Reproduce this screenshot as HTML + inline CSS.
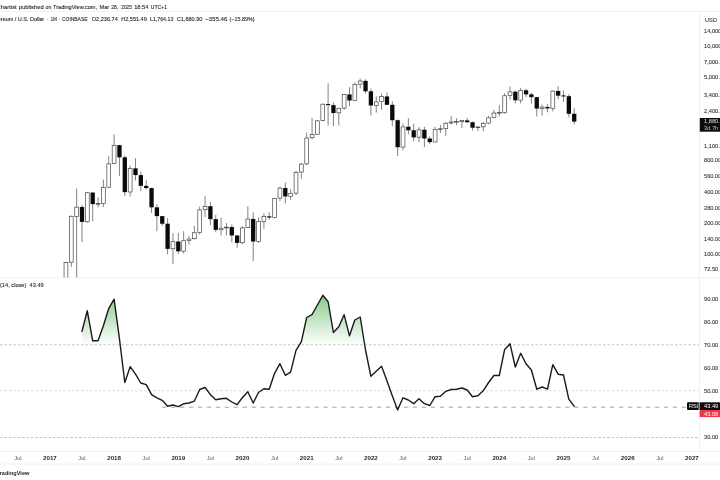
<!DOCTYPE html>
<html><head><meta charset="utf-8"><title>ETHUSD chart</title>
<style>
html,body{margin:0;padding:0;background:#fff;}
body{width:720px;height:480px;overflow:hidden;position:relative;font-family:"Liberation Sans",Arial,sans-serif;}
svg{position:absolute;left:0;top:0;display:block;filter:blur(0.3px)}
text{font-family:"Liberation Sans",Arial,sans-serif;}
</style></head><body>
<svg width="720" height="480" viewBox="0 0 720 480">
<defs>
<linearGradient id="g" gradientUnits="userSpaceOnUse" x1="0" y1="276.0" x2="0" y2="345.0">
<stop offset="0" stop-color="#4caf50" stop-opacity="0.92"/>
<stop offset="1" stop-color="#4caf50" stop-opacity="0"/>
</linearGradient>
<clipPath id="c70"><rect x="0" y="270" width="700" height="75.0"/></clipPath>
<clipPath id="cp"><rect x="0" y="12" width="699" height="265.5"/></clipPath>
</defs>
<rect width="720" height="480" fill="#fff"/>

<g stroke="#f2f2f2" stroke-width="1" fill="none">
<line x1="0" y1="11.5" x2="720" y2="11.5"/>
<line x1="0" y1="277.5" x2="720" y2="277.5"/>
<line x1="0" y1="451.5" x2="720" y2="451.5"/>
<line x1="0" y1="464" x2="720" y2="464"/>
<line x1="699.5" y1="11.5" x2="699.5" y2="451.5"/>
</g>
<g fill="none" stroke-width="1">
<line x1="0" y1="344.8" x2="699" y2="344.8" stroke="#c6c6c6" stroke-dasharray="2.6 1.9"/>
<line x1="0" y1="390.8" x2="699" y2="390.8" stroke="#dadada" stroke-dasharray="2.6 1.9"/>
<line x1="0" y1="437.5" x2="699" y2="437.5" stroke="#c6c6c6" stroke-dasharray="2.6 1.8"/>
</g>
<line x1="162.1" y1="407.2" x2="687" y2="407.2" stroke="#c4909c" stroke-width="1" stroke-dasharray="4.2 4.76"/>
<g clip-path="url(#c70)"><polygon points="82.0,345.0 82.0,331.3 87.3,310.8 92.7,340.8 98.0,340.8 103.4,325.8 108.8,308.3 114.1,299.2 119.4,338.3 124.8,382.5 130.2,366.7 135.5,374.2 140.8,383.0 146.2,384.7 151.6,394.7 156.9,397.8 162.2,400.3 167.6,406.3 172.9,405.0 178.3,406.7 183.6,403.8 189.0,403.0 194.3,401.2 199.7,389.5 205.1,387.5 210.4,394.7 215.8,399.7 221.1,398.7 226.4,398.3 231.8,402.0 237.1,404.7 242.5,397.5 247.8,391.7 253.2,403.0 258.5,392.5 263.9,388.7 269.2,389.3 274.6,373.3 279.9,363.7 285.3,375.3 290.6,372.2 296.0,350.4 301.4,341.7 306.7,317.5 312.0,314.7 317.4,305.0 322.8,295.3 328.1,301.7 333.4,332.5 338.8,326.7 344.1,314.7 349.5,335.8 354.8,320.0 360.2,317.0 365.5,350.0 370.9,376.3 376.2,371.3 381.6,366.2 386.9,380.8 392.3,395.8 397.6,410.0 403.0,397.8 408.3,400.0 413.7,403.7 419.0,398.7 424.4,403.7 429.8,405.5 435.1,396.7 440.4,396.2 445.8,391.3 451.1,389.5 456.5,389.3 461.8,388.0 467.2,390.0 472.5,396.7 477.9,395.8 483.2,390.8 488.6,382.5 493.9,375.5 499.3,375.5 504.6,349.7 510.0,343.7 515.3,367.0 520.7,353.3 526.0,363.7 531.4,370.0 536.8,389.2 542.1,387.0 547.5,389.2 552.8,364.7 558.1,374.2 563.5,375.0 568.8,399.2 574.2,406.3 574.2,345.0" fill="url(#g)"/></g>
<polyline points="82.0,331.3 87.3,310.8 92.7,340.8 98.0,340.8 103.4,325.8 108.8,308.3 114.1,299.2 119.4,338.3 124.8,382.5 130.2,366.7 135.5,374.2 140.8,383.0 146.2,384.7 151.6,394.7 156.9,397.8 162.2,400.3 167.6,406.3 172.9,405.0 178.3,406.7 183.6,403.8 189.0,403.0 194.3,401.2 199.7,389.5 205.1,387.5 210.4,394.7 215.8,399.7 221.1,398.7 226.4,398.3 231.8,402.0 237.1,404.7 242.5,397.5 247.8,391.7 253.2,403.0 258.5,392.5 263.9,388.7 269.2,389.3 274.6,373.3 279.9,363.7 285.3,375.3 290.6,372.2 296.0,350.4 301.4,341.7 306.7,317.5 312.0,314.7 317.4,305.0 322.8,295.3 328.1,301.7 333.4,332.5 338.8,326.7 344.1,314.7 349.5,335.8 354.8,320.0 360.2,317.0 365.5,350.0 370.9,376.3 376.2,371.3 381.6,366.2 386.9,380.8 392.3,395.8 397.6,410.0 403.0,397.8 408.3,400.0 413.7,403.7 419.0,398.7 424.4,403.7 429.8,405.5 435.1,396.7 440.4,396.2 445.8,391.3 451.1,389.5 456.5,389.3 461.8,388.0 467.2,390.0 472.5,396.7 477.9,395.8 483.2,390.8 488.6,382.5 493.9,375.5 499.3,375.5 504.6,349.7 510.0,343.7 515.3,367.0 520.7,353.3 526.0,363.7 531.4,370.0 536.8,389.2 542.1,387.0 547.5,389.2 552.8,364.7 558.1,374.2 563.5,375.0 568.8,399.2 574.2,406.3" fill="none" stroke="#1a1a1a" stroke-width="1.4" stroke-linejoin="round" stroke-linecap="round"/>
<g clip-path="url(#cp)">
<line x1="60.60" y1="281.46" x2="60.60" y2="338.77" stroke="#5a5a5a" stroke-width="0.75"/>
<rect x="58.70" y="285.92" width="3.80" height="51.83" fill="#fff" stroke="#4c4c4c" stroke-width="0.72"/>
<line x1="65.95" y1="261.76" x2="65.95" y2="295.87" stroke="#5a5a5a" stroke-width="0.75"/>
<rect x="64.05" y="262.44" width="3.80" height="23.18" fill="#fff" stroke="#4c4c4c" stroke-width="0.72"/>
<line x1="71.30" y1="215.55" x2="71.30" y2="266.82" stroke="#5a5a5a" stroke-width="0.75"/>
<rect x="69.40" y="216.28" width="3.80" height="45.87" fill="#fff" stroke="#4c4c4c" stroke-width="0.72"/>
<line x1="76.65" y1="188.40" x2="76.65" y2="462.79" stroke="#5a5a5a" stroke-width="0.75"/>
<rect x="74.75" y="207.16" width="3.80" height="9.21" fill="#fff" stroke="#4c4c4c" stroke-width="0.72"/>
<line x1="82.00" y1="204.69" x2="82.00" y2="242.19" stroke="#5a5a5a" stroke-width="0.75"/>
<rect x="79.85" y="207.01" width="4.30" height="14.91" fill="#0a0a0a"/>
<line x1="87.35" y1="191.90" x2="87.35" y2="222.59" stroke="#5a5a5a" stroke-width="0.75"/>
<rect x="85.45" y="192.74" width="3.80" height="29.03" fill="#fff" stroke="#4c4c4c" stroke-width="0.72"/>
<line x1="92.70" y1="192.02" x2="92.70" y2="221.27" stroke="#5a5a5a" stroke-width="0.75"/>
<rect x="90.55" y="192.59" width="4.30" height="11.50" fill="#0a0a0a"/>
<line x1="98.05" y1="197.33" x2="98.05" y2="207.33" stroke="#5a5a5a" stroke-width="0.75"/>
<rect x="96.15" y="203.52" width="3.80" height="0.70" fill="#fff" stroke="#4c4c4c" stroke-width="0.72"/>
<line x1="103.40" y1="179.63" x2="103.40" y2="207.01" stroke="#5a5a5a" stroke-width="0.75"/>
<rect x="101.50" y="187.51" width="3.80" height="15.99" fill="#fff" stroke="#4c4c4c" stroke-width="0.72"/>
<line x1="108.75" y1="155.95" x2="108.75" y2="187.78" stroke="#5a5a5a" stroke-width="0.75"/>
<rect x="106.85" y="163.87" width="3.80" height="23.35" fill="#fff" stroke="#4c4c4c" stroke-width="0.72"/>
<line x1="114.10" y1="134.35" x2="114.10" y2="164.14" stroke="#5a5a5a" stroke-width="0.75"/>
<rect x="112.20" y="145.32" width="3.80" height="18.25" fill="#fff" stroke="#4c4c4c" stroke-width="0.72"/>
<line x1="119.45" y1="144.88" x2="119.45" y2="176.05" stroke="#5a5a5a" stroke-width="0.75"/>
<rect x="117.30" y="145.17" width="4.30" height="12.14" fill="#0a0a0a"/>
<line x1="124.80" y1="155.74" x2="124.80" y2="195.94" stroke="#5a5a5a" stroke-width="0.75"/>
<rect x="122.65" y="157.30" width="4.30" height="34.83" fill="#0a0a0a"/>
<line x1="130.15" y1="165.58" x2="130.15" y2="196.69" stroke="#5a5a5a" stroke-width="0.75"/>
<rect x="128.25" y="168.48" width="3.80" height="23.50" fill="#fff" stroke="#4c4c4c" stroke-width="0.72"/>
<line x1="135.50" y1="158.16" x2="135.50" y2="180.50" stroke="#5a5a5a" stroke-width="0.75"/>
<rect x="133.35" y="168.33" width="4.30" height="6.76" fill="#0a0a0a"/>
<line x1="140.85" y1="171.19" x2="140.85" y2="191.11" stroke="#5a5a5a" stroke-width="0.75"/>
<rect x="138.70" y="175.10" width="4.30" height="10.75" fill="#0a0a0a"/>
<line x1="146.20" y1="180.15" x2="146.20" y2="189.47" stroke="#5a5a5a" stroke-width="0.75"/>
<rect x="144.05" y="185.85" width="4.30" height="2.24" fill="#0a0a0a"/>
<line x1="151.55" y1="187.67" x2="151.55" y2="212.94" stroke="#5a5a5a" stroke-width="0.75"/>
<rect x="149.40" y="188.09" width="4.30" height="19.24" fill="#0a0a0a"/>
<line x1="156.90" y1="204.24" x2="156.90" y2="231.20" stroke="#5a5a5a" stroke-width="0.75"/>
<rect x="154.75" y="207.33" width="4.30" height="8.80" fill="#0a0a0a"/>
<line x1="162.25" y1="215.74" x2="162.25" y2="225.84" stroke="#5a5a5a" stroke-width="0.75"/>
<rect x="160.10" y="216.13" width="4.30" height="7.59" fill="#0a0a0a"/>
<line x1="167.60" y1="218.11" x2="167.60" y2="254.40" stroke="#5a5a5a" stroke-width="0.75"/>
<rect x="165.45" y="223.72" width="4.30" height="25.15" fill="#0a0a0a"/>
<line x1="172.95" y1="233.14" x2="172.95" y2="263.94" stroke="#5a5a5a" stroke-width="0.75"/>
<rect x="171.05" y="241.65" width="3.80" height="7.07" fill="#fff" stroke="#4c4c4c" stroke-width="0.72"/>
<line x1="178.30" y1="232.86" x2="178.30" y2="253.95" stroke="#5a5a5a" stroke-width="0.75"/>
<rect x="176.15" y="241.50" width="4.30" height="9.84" fill="#0a0a0a"/>
<line x1="183.65" y1="231.20" x2="183.65" y2="253.51" stroke="#5a5a5a" stroke-width="0.75"/>
<rect x="181.75" y="240.64" width="3.80" height="10.55" fill="#fff" stroke="#4c4c4c" stroke-width="0.72"/>
<line x1="189.00" y1="236.06" x2="189.00" y2="244.67" stroke="#5a5a5a" stroke-width="0.75"/>
<rect x="187.10" y="239.01" width="3.80" height="1.33" fill="#fff" stroke="#4c4c4c" stroke-width="0.72"/>
<line x1="194.35" y1="225.84" x2="194.35" y2="239.50" stroke="#5a5a5a" stroke-width="0.75"/>
<rect x="192.45" y="232.72" width="3.80" height="5.98" fill="#fff" stroke="#4c4c4c" stroke-width="0.72"/>
<line x1="199.70" y1="206.38" x2="199.70" y2="234.57" stroke="#5a5a5a" stroke-width="0.75"/>
<rect x="197.80" y="209.95" width="3.80" height="22.48" fill="#fff" stroke="#4c4c4c" stroke-width="0.72"/>
<line x1="205.05" y1="195.94" x2="205.05" y2="217.11" stroke="#5a5a5a" stroke-width="0.75"/>
<rect x="203.15" y="206.38" width="3.80" height="3.27" fill="#fff" stroke="#4c4c4c" stroke-width="0.72"/>
<line x1="210.40" y1="201.91" x2="210.40" y2="225.12" stroke="#5a5a5a" stroke-width="0.75"/>
<rect x="208.25" y="206.23" width="4.30" height="12.91" fill="#0a0a0a"/>
<line x1="215.75" y1="214.79" x2="215.75" y2="232.30" stroke="#5a5a5a" stroke-width="0.75"/>
<rect x="213.60" y="219.14" width="4.30" height="10.72" fill="#0a0a0a"/>
<line x1="221.10" y1="217.71" x2="221.10" y2="235.46" stroke="#5a5a5a" stroke-width="0.75"/>
<rect x="219.20" y="228.21" width="3.80" height="1.51" fill="#fff" stroke="#4c4c4c" stroke-width="0.72"/>
<line x1="226.45" y1="223.04" x2="226.45" y2="235.46" stroke="#5a5a5a" stroke-width="0.75"/>
<rect x="224.55" y="227.21" width="3.80" height="0.70" fill="#fff" stroke="#4c4c4c" stroke-width="0.72"/>
<line x1="231.80" y1="224.19" x2="231.80" y2="242.19" stroke="#5a5a5a" stroke-width="0.75"/>
<rect x="229.65" y="227.06" width="4.30" height="8.40" fill="#0a0a0a"/>
<line x1="237.15" y1="235.16" x2="237.15" y2="247.69" stroke="#5a5a5a" stroke-width="0.75"/>
<rect x="235.00" y="235.46" width="4.30" height="7.42" fill="#0a0a0a"/>
<line x1="242.50" y1="226.08" x2="242.50" y2="244.31" stroke="#5a5a5a" stroke-width="0.75"/>
<rect x="240.60" y="227.96" width="3.80" height="14.77" fill="#fff" stroke="#4c4c4c" stroke-width="0.72"/>
<line x1="247.85" y1="206.23" x2="247.85" y2="228.06" stroke="#5a5a5a" stroke-width="0.75"/>
<rect x="245.95" y="219.08" width="3.80" height="8.57" fill="#fff" stroke="#4c4c4c" stroke-width="0.72"/>
<line x1="253.20" y1="212.40" x2="253.20" y2="261.23" stroke="#5a5a5a" stroke-width="0.75"/>
<rect x="251.05" y="218.93" width="4.30" height="22.57" fill="#0a0a0a"/>
<line x1="258.55" y1="217.31" x2="258.55" y2="242.88" stroke="#5a5a5a" stroke-width="0.75"/>
<rect x="256.65" y="221.63" width="3.80" height="19.72" fill="#fff" stroke="#4c4c4c" stroke-width="0.72"/>
<line x1="263.90" y1="213.31" x2="263.90" y2="228.82" stroke="#5a5a5a" stroke-width="0.75"/>
<rect x="262.00" y="216.47" width="3.80" height="4.86" fill="#fff" stroke="#4c4c4c" stroke-width="0.72"/>
<line x1="269.25" y1="212.22" x2="269.25" y2="219.56" stroke="#5a5a5a" stroke-width="0.75"/>
<rect x="267.10" y="216.32" width="4.30" height="1.19" fill="#0a0a0a"/>
<line x1="274.60" y1="197.85" x2="274.60" y2="218.32" stroke="#5a5a5a" stroke-width="0.75"/>
<rect x="272.70" y="198.39" width="3.80" height="18.97" fill="#fff" stroke="#4c4c4c" stroke-width="0.72"/>
<line x1="279.95" y1="186.65" x2="279.95" y2="201.07" stroke="#5a5a5a" stroke-width="0.75"/>
<rect x="278.05" y="188.13" width="3.80" height="9.95" fill="#fff" stroke="#4c4c4c" stroke-width="0.72"/>
<line x1="285.30" y1="182.49" x2="285.30" y2="203.50" stroke="#5a5a5a" stroke-width="0.75"/>
<rect x="283.15" y="187.98" width="4.30" height="8.46" fill="#0a0a0a"/>
<line x1="290.65" y1="189.36" x2="290.65" y2="199.83" stroke="#5a5a5a" stroke-width="0.75"/>
<rect x="288.75" y="193.44" width="3.80" height="2.86" fill="#fff" stroke="#4c4c4c" stroke-width="0.72"/>
<line x1="296.00" y1="170.69" x2="296.00" y2="195.20" stroke="#5a5a5a" stroke-width="0.75"/>
<rect x="294.10" y="172.36" width="3.80" height="20.78" fill="#fff" stroke="#4c4c4c" stroke-width="0.72"/>
<line x1="301.35" y1="162.75" x2="301.35" y2="178.94" stroke="#5a5a5a" stroke-width="0.75"/>
<rect x="299.45" y="164.17" width="3.80" height="7.89" fill="#fff" stroke="#4c4c4c" stroke-width="0.72"/>
<line x1="306.70" y1="132.56" x2="306.70" y2="165.39" stroke="#5a5a5a" stroke-width="0.75"/>
<rect x="304.80" y="138.01" width="3.80" height="25.87" fill="#fff" stroke="#4c4c4c" stroke-width="0.72"/>
<line x1="312.05" y1="117.91" x2="312.05" y2="139.40" stroke="#5a5a5a" stroke-width="0.75"/>
<rect x="310.15" y="134.53" width="3.80" height="3.18" fill="#fff" stroke="#4c4c4c" stroke-width="0.72"/>
<line x1="317.40" y1="120.04" x2="317.40" y2="134.67" stroke="#5a5a5a" stroke-width="0.75"/>
<rect x="315.50" y="120.87" width="3.80" height="13.36" fill="#fff" stroke="#4c4c4c" stroke-width="0.72"/>
<line x1="322.75" y1="103.62" x2="322.75" y2="121.17" stroke="#5a5a5a" stroke-width="0.75"/>
<rect x="320.85" y="104.21" width="3.80" height="16.36" fill="#fff" stroke="#4c4c4c" stroke-width="0.72"/>
<line x1="328.10" y1="83.34" x2="328.10" y2="125.41" stroke="#5a5a5a" stroke-width="0.75"/>
<rect x="325.95" y="104.06" width="4.30" height="1.07" fill="#0a0a0a"/>
<line x1="333.45" y1="102.11" x2="333.45" y2="126.20" stroke="#5a5a5a" stroke-width="0.75"/>
<rect x="331.30" y="105.13" width="4.30" height="7.88" fill="#0a0a0a"/>
<line x1="338.80" y1="107.85" x2="338.80" y2="125.67" stroke="#5a5a5a" stroke-width="0.75"/>
<rect x="336.90" y="108.34" width="3.80" height="4.53" fill="#fff" stroke="#4c4c4c" stroke-width="0.72"/>
<line x1="344.15" y1="93.91" x2="344.15" y2="109.85" stroke="#5a5a5a" stroke-width="0.75"/>
<rect x="342.25" y="94.59" width="3.80" height="13.45" fill="#fff" stroke="#4c4c4c" stroke-width="0.72"/>
<line x1="349.50" y1="87.14" x2="349.50" y2="106.11" stroke="#5a5a5a" stroke-width="0.75"/>
<rect x="347.35" y="94.44" width="4.30" height="6.06" fill="#0a0a0a"/>
<line x1="354.85" y1="82.56" x2="354.85" y2="100.65" stroke="#5a5a5a" stroke-width="0.75"/>
<rect x="352.95" y="84.49" width="3.80" height="15.86" fill="#fff" stroke="#4c4c4c" stroke-width="0.72"/>
<line x1="360.20" y1="78.60" x2="360.20" y2="88.40" stroke="#5a5a5a" stroke-width="0.75"/>
<rect x="358.30" y="81.01" width="3.80" height="3.17" fill="#fff" stroke="#4c4c4c" stroke-width="0.72"/>
<line x1="365.55" y1="79.42" x2="365.55" y2="93.53" stroke="#5a5a5a" stroke-width="0.75"/>
<rect x="363.40" y="80.86" width="4.30" height="10.43" fill="#0a0a0a"/>
<line x1="370.90" y1="88.63" x2="370.90" y2="115.37" stroke="#5a5a5a" stroke-width="0.75"/>
<rect x="368.75" y="91.29" width="4.30" height="14.19" fill="#0a0a0a"/>
<line x1="376.25" y1="96.39" x2="376.25" y2="112.52" stroke="#5a5a5a" stroke-width="0.75"/>
<rect x="374.35" y="101.87" width="3.80" height="3.46" fill="#fff" stroke="#4c4c4c" stroke-width="0.72"/>
<line x1="381.60" y1="93.78" x2="381.60" y2="109.76" stroke="#5a5a5a" stroke-width="0.75"/>
<rect x="379.70" y="96.59" width="3.80" height="4.99" fill="#fff" stroke="#4c4c4c" stroke-width="0.72"/>
<line x1="386.95" y1="92.50" x2="386.95" y2="105.10" stroke="#5a5a5a" stroke-width="0.75"/>
<rect x="384.80" y="96.44" width="4.30" height="8.38" fill="#0a0a0a"/>
<line x1="392.30" y1="101.03" x2="392.30" y2="126.20" stroke="#5a5a5a" stroke-width="0.75"/>
<rect x="390.15" y="104.82" width="4.30" height="15.38" fill="#0a0a0a"/>
<line x1="397.65" y1="119.53" x2="397.65" y2="156.00" stroke="#5a5a5a" stroke-width="0.75"/>
<rect x="395.50" y="120.20" width="4.30" height="27.03" fill="#0a0a0a"/>
<line x1="403.00" y1="123.99" x2="403.00" y2="150.21" stroke="#5a5a5a" stroke-width="0.75"/>
<rect x="401.10" y="126.89" width="3.80" height="20.20" fill="#fff" stroke="#4c4c4c" stroke-width="0.72"/>
<line x1="408.35" y1="118.17" x2="408.35" y2="134.35" stroke="#5a5a5a" stroke-width="0.75"/>
<rect x="406.20" y="126.74" width="4.30" height="3.53" fill="#0a0a0a"/>
<line x1="413.70" y1="123.87" x2="413.70" y2="141.21" stroke="#5a5a5a" stroke-width="0.75"/>
<rect x="411.55" y="130.27" width="4.30" height="7.11" fill="#0a0a0a"/>
<line x1="419.05" y1="127.14" x2="419.05" y2="142.34" stroke="#5a5a5a" stroke-width="0.75"/>
<rect x="417.15" y="129.89" width="3.80" height="7.33" fill="#fff" stroke="#4c4c4c" stroke-width="0.72"/>
<line x1="424.40" y1="126.74" x2="424.40" y2="147.02" stroke="#5a5a5a" stroke-width="0.75"/>
<rect x="422.25" y="129.74" width="4.30" height="8.77" fill="#0a0a0a"/>
<line x1="429.75" y1="136.57" x2="429.75" y2="143.89" stroke="#5a5a5a" stroke-width="0.75"/>
<rect x="427.60" y="138.52" width="4.30" height="3.60" fill="#0a0a0a"/>
<line x1="435.10" y1="126.74" x2="435.10" y2="142.34" stroke="#5a5a5a" stroke-width="0.75"/>
<rect x="433.20" y="129.49" width="3.80" height="12.47" fill="#fff" stroke="#4c4c4c" stroke-width="0.72"/>
<line x1="440.45" y1="125.02" x2="440.45" y2="133.09" stroke="#5a5a5a" stroke-width="0.75"/>
<rect x="438.55" y="128.72" width="3.80" height="0.70" fill="#fff" stroke="#4c4c4c" stroke-width="0.72"/>
<line x1="445.80" y1="122.13" x2="445.80" y2="135.97" stroke="#5a5a5a" stroke-width="0.75"/>
<rect x="443.90" y="123.22" width="3.80" height="5.44" fill="#fff" stroke="#4c4c4c" stroke-width="0.72"/>
<line x1="451.15" y1="115.79" x2="451.15" y2="124.63" stroke="#5a5a5a" stroke-width="0.75"/>
<rect x="449.25" y="122.04" width="3.80" height="0.88" fill="#fff" stroke="#4c4c4c" stroke-width="0.72"/>
<line x1="456.50" y1="118.40" x2="456.50" y2="125.15" stroke="#5a5a5a" stroke-width="0.75"/>
<rect x="454.60" y="121.50" width="3.80" height="0.70" fill="#fff" stroke="#4c4c4c" stroke-width="0.72"/>
<line x1="461.85" y1="120.23" x2="461.85" y2="128.24" stroke="#5a5a5a" stroke-width="0.75"/>
<rect x="459.95" y="120.54" width="3.80" height="1.13" fill="#fff" stroke="#4c4c4c" stroke-width="0.72"/>
<line x1="467.20" y1="118.17" x2="467.20" y2="122.99" stroke="#5a5a5a" stroke-width="0.75"/>
<rect x="465.05" y="120.39" width="4.30" height="1.84" fill="#0a0a0a"/>
<line x1="472.55" y1="121.65" x2="472.55" y2="130.38" stroke="#5a5a5a" stroke-width="0.75"/>
<rect x="470.40" y="122.23" width="4.30" height="5.46" fill="#0a0a0a"/>
<line x1="477.90" y1="126.47" x2="477.90" y2="130.97" stroke="#5a5a5a" stroke-width="0.75"/>
<rect x="476.00" y="126.99" width="3.80" height="0.70" fill="#fff" stroke="#4c4c4c" stroke-width="0.72"/>
<line x1="483.25" y1="122.01" x2="483.25" y2="131.27" stroke="#5a5a5a" stroke-width="0.75"/>
<rect x="481.35" y="123.39" width="3.80" height="3.44" fill="#fff" stroke="#4c4c4c" stroke-width="0.72"/>
<line x1="488.60" y1="115.89" x2="488.60" y2="124.12" stroke="#5a5a5a" stroke-width="0.75"/>
<rect x="486.70" y="117.84" width="3.80" height="5.25" fill="#fff" stroke="#4c4c4c" stroke-width="0.72"/>
<line x1="493.95" y1="109.76" x2="493.95" y2="117.84" stroke="#5a5a5a" stroke-width="0.75"/>
<rect x="492.05" y="113.03" width="3.80" height="4.51" fill="#fff" stroke="#4c4c4c" stroke-width="0.72"/>
<line x1="499.30" y1="104.98" x2="499.30" y2="116.64" stroke="#5a5a5a" stroke-width="0.75"/>
<rect x="497.40" y="112.52" width="3.80" height="0.70" fill="#fff" stroke="#4c4c4c" stroke-width="0.72"/>
<line x1="504.65" y1="93.27" x2="504.65" y2="113.72" stroke="#5a5a5a" stroke-width="0.75"/>
<rect x="502.75" y="95.79" width="3.80" height="16.92" fill="#fff" stroke="#4c4c4c" stroke-width="0.72"/>
<line x1="510.00" y1="86.44" x2="510.00" y2="99.66" stroke="#5a5a5a" stroke-width="0.75"/>
<rect x="508.10" y="91.83" width="3.80" height="3.67" fill="#fff" stroke="#4c4c4c" stroke-width="0.72"/>
<line x1="515.35" y1="90.65" x2="515.35" y2="103.38" stroke="#5a5a5a" stroke-width="0.75"/>
<rect x="513.20" y="91.68" width="4.30" height="8.61" fill="#0a0a0a"/>
<line x1="520.70" y1="87.77" x2="520.70" y2="103.38" stroke="#5a5a5a" stroke-width="0.75"/>
<rect x="518.80" y="90.42" width="3.80" height="9.72" fill="#fff" stroke="#4c4c4c" stroke-width="0.72"/>
<line x1="526.05" y1="88.74" x2="526.05" y2="97.16" stroke="#5a5a5a" stroke-width="0.75"/>
<rect x="523.90" y="90.27" width="4.30" height="4.09" fill="#0a0a0a"/>
<line x1="531.40" y1="92.72" x2="531.40" y2="103.54" stroke="#5a5a5a" stroke-width="0.75"/>
<rect x="529.25" y="94.36" width="4.30" height="2.77" fill="#0a0a0a"/>
<line x1="536.75" y1="96.95" x2="536.75" y2="116.43" stroke="#5a5a5a" stroke-width="0.75"/>
<rect x="534.60" y="97.13" width="4.30" height="11.39" fill="#0a0a0a"/>
<line x1="542.10" y1="104.77" x2="542.10" y2="115.58" stroke="#5a5a5a" stroke-width="0.75"/>
<rect x="540.20" y="107.09" width="3.80" height="1.27" fill="#fff" stroke="#4c4c4c" stroke-width="0.72"/>
<line x1="547.45" y1="104.11" x2="547.45" y2="112.33" stroke="#5a5a5a" stroke-width="0.75"/>
<rect x="545.30" y="106.94" width="4.30" height="1.48" fill="#0a0a0a"/>
<line x1="552.80" y1="90.52" x2="552.80" y2="111.45" stroke="#5a5a5a" stroke-width="0.75"/>
<rect x="550.90" y="91.11" width="3.80" height="17.16" fill="#fff" stroke="#4c4c4c" stroke-width="0.72"/>
<line x1="558.15" y1="86.26" x2="558.15" y2="99.02" stroke="#5a5a5a" stroke-width="0.75"/>
<rect x="556.00" y="90.96" width="4.30" height="4.73" fill="#0a0a0a"/>
<line x1="563.50" y1="90.46" x2="563.50" y2="101.72" stroke="#5a5a5a" stroke-width="0.75"/>
<rect x="561.35" y="95.44" width="4.30" height="1.00" fill="#0a0a0a"/>
<line x1="568.85" y1="94.31" x2="568.85" y2="117.29" stroke="#5a5a5a" stroke-width="0.75"/>
<rect x="566.70" y="96.19" width="4.30" height="17.59" fill="#0a0a0a"/>
<line x1="574.20" y1="107.83" x2="574.20" y2="124.53" stroke="#5a5a5a" stroke-width="0.75"/>
<rect x="572.05" y="113.79" width="4.30" height="7.84" fill="#0a0a0a"/>
</g>
<g font-size="5.7" fill="#3c3c3c" stroke="#3c3c3c" stroke-width="0.12">
<text x="705" y="21.5">USD</text>
<text x="704" y="32.8">14,000.00</text>
<text x="704" y="48.0">10,000.00</text>
<text x="704" y="64.2">7,000.00</text>
<text x="704" y="79.4">5,000.00</text>
<text x="704" y="96.8">3,400.00</text>
<text x="704" y="112.6">2,400.00</text>
<text x="704" y="147.9">1,100.00</text>
<text x="704" y="162.3">800.00</text>
<text x="704" y="178.4">560.00</text>
<text x="704" y="193.7">400.00</text>
<text x="704" y="209.8">280.00</text>
<text x="704" y="225.0">200.00</text>
<text x="704" y="241.2">140.00</text>
<text x="704" y="256.4">100.00</text>
<text x="704" y="271.0">72.50</text>
<text x="704" y="301.0">90.00</text>
<text x="704" y="324.0">80.00</text>
<text x="704" y="347.0">70.00</text>
<text x="704" y="370.0">60.00</text>
<text x="704" y="393.0">50.00</text>
<text x="704" y="439.0">30.00</text>
</g>
<rect x="699.8" y="118" width="21" height="13.7" fill="#0c0c0c"/>
<g font-size="5.7" fill="#e4e4e4"><text x="704" y="123.4">1,880.90</text><text x="704" y="129.8" fill="#c4c4c4">3d 7h</text></g>
<rect x="687" y="402.3" width="11.8" height="7.7" rx="1" fill="#0c0c0c"/>
<rect x="699.6" y="402.3" width="21" height="7.7" fill="#0c0c0c"/>
<rect x="699.6" y="410" width="21" height="7.1" fill="#f0384d"/>
<g font-size="5.7" fill="#fff"><text x="689" y="408.2">RSI</text><text x="704" y="408.2">43.49</text><text x="704" y="415.6">43.08</text></g>
<g font-size="5.7" text-anchor="middle">
<text x="17.8" y="460.1" fill="#606060">Jul</text>
<text x="49.9" y="460.1" font-weight="bold" fill="#2a2a2a" textLength="13.8" lengthAdjust="spacingAndGlyphs">2017</text>
<text x="82.0" y="460.1" fill="#606060">Jul</text>
<text x="114.1" y="460.1" font-weight="bold" fill="#2a2a2a" textLength="13.8" lengthAdjust="spacingAndGlyphs">2018</text>
<text x="146.2" y="460.1" fill="#606060">Jul</text>
<text x="178.3" y="460.1" font-weight="bold" fill="#2a2a2a" textLength="13.8" lengthAdjust="spacingAndGlyphs">2019</text>
<text x="210.4" y="460.1" fill="#606060">Jul</text>
<text x="242.5" y="460.1" font-weight="bold" fill="#2a2a2a" textLength="13.8" lengthAdjust="spacingAndGlyphs">2020</text>
<text x="274.6" y="460.1" fill="#606060">Jul</text>
<text x="306.7" y="460.1" font-weight="bold" fill="#2a2a2a" textLength="13.8" lengthAdjust="spacingAndGlyphs">2021</text>
<text x="338.8" y="460.1" fill="#606060">Jul</text>
<text x="370.9" y="460.1" font-weight="bold" fill="#2a2a2a" textLength="13.8" lengthAdjust="spacingAndGlyphs">2022</text>
<text x="403.0" y="460.1" fill="#606060">Jul</text>
<text x="435.1" y="460.1" font-weight="bold" fill="#2a2a2a" textLength="13.8" lengthAdjust="spacingAndGlyphs">2023</text>
<text x="467.2" y="460.1" fill="#606060">Jul</text>
<text x="499.3" y="460.1" font-weight="bold" fill="#2a2a2a" textLength="13.8" lengthAdjust="spacingAndGlyphs">2024</text>
<text x="531.4" y="460.1" fill="#606060">Jul</text>
<text x="563.5" y="460.1" font-weight="bold" fill="#2a2a2a" textLength="13.8" lengthAdjust="spacingAndGlyphs">2025</text>
<text x="595.6" y="460.1" fill="#606060">Jul</text>
<text x="627.7" y="460.1" font-weight="bold" fill="#2a2a2a" textLength="13.8" lengthAdjust="spacingAndGlyphs">2026</text>
<text x="659.8" y="460.1" fill="#606060">Jul</text>
<text x="691.9" y="460.1" font-weight="bold" fill="#2a2a2a" textLength="13.8" lengthAdjust="spacingAndGlyphs">2027</text>
</g>
<g fill="#2e2e2e" stroke="#2e2e2e" stroke-width="0.12">
<text x="-13.5" y="8.8" font-size="5.71" textLength="30.2" lengthAdjust="spacingAndGlyphs">TheChartist</text>
<text x="18.7" y="8.8" font-size="5.71" textLength="25.0" lengthAdjust="spacingAndGlyphs">published</text>
<text x="45.5" y="8.8" font-size="5.71" textLength="5.8" lengthAdjust="spacingAndGlyphs">on</text>
<text x="53.0" y="8.8" font-size="5.71" textLength="44.0" lengthAdjust="spacingAndGlyphs">TradingView.com,</text>
<text x="99.4" y="8.8" font-size="5.71" textLength="9.8" lengthAdjust="spacingAndGlyphs">Mar</text>
<text x="111.3" y="8.8" font-size="5.71" textLength="6.7" lengthAdjust="spacingAndGlyphs">28,</text>
<text x="121.3" y="8.8" font-size="5.71" textLength="10.6" lengthAdjust="spacingAndGlyphs">2025</text>
<text x="134.2" y="8.8" font-size="5.71" textLength="14.2" lengthAdjust="spacingAndGlyphs">18:54</text>
<text x="150.8" y="8.8" font-size="5.71" textLength="16.2" lengthAdjust="spacingAndGlyphs">UTC+1</text>
<text x="44.2" y="20.7" font-size="5.46" text-anchor="end">Ethereum / U.S. Dollar</text>
<text x="47.5" y="20.7" font-size="5.46" text-anchor="middle">·</text>
<text x="50.8" y="20.7" font-size="5.46" textLength="5.9" lengthAdjust="spacingAndGlyphs">1M</text>
<text x="59.5" y="20.7" font-size="5.46" text-anchor="middle">·</text>
<text x="62" y="20.7" font-size="5.46" textLength="25.5" lengthAdjust="spacingAndGlyphs">COINBASE</text>
<text x="91.7" y="20.7" font-size="5.5" textLength="26.1" lengthAdjust="spacingAndGlyphs">O2,236.74</text>
<text x="121.2" y="20.7" font-size="5.5" textLength="25.6" lengthAdjust="spacingAndGlyphs">H2,551.49</text>
<text x="150.0" y="20.7" font-size="5.5" textLength="23.3" lengthAdjust="spacingAndGlyphs">L1,764.13</text>
<text x="176.7" y="20.7" font-size="5.5" textLength="25.8" lengthAdjust="spacingAndGlyphs">C1,880.90</text>
<text x="205.0" y="20.7" font-size="5.5" textLength="22.5" lengthAdjust="spacingAndGlyphs">−355.46</text>
<text x="229.5" y="20.7" font-size="5.5" textLength="25.0" lengthAdjust="spacingAndGlyphs">(−15.89%)</text>
<text x="43.7" y="287.2" font-size="5.66" text-anchor="end" xml:space="preserve">RSI (14, close)  43.49</text>
</g>
<text x="-3.4" y="474.6" font-size="5.9" font-weight="bold" fill="#262626" textLength="32.7" lengthAdjust="spacingAndGlyphs">TradingView</text>
</svg></body></html>
